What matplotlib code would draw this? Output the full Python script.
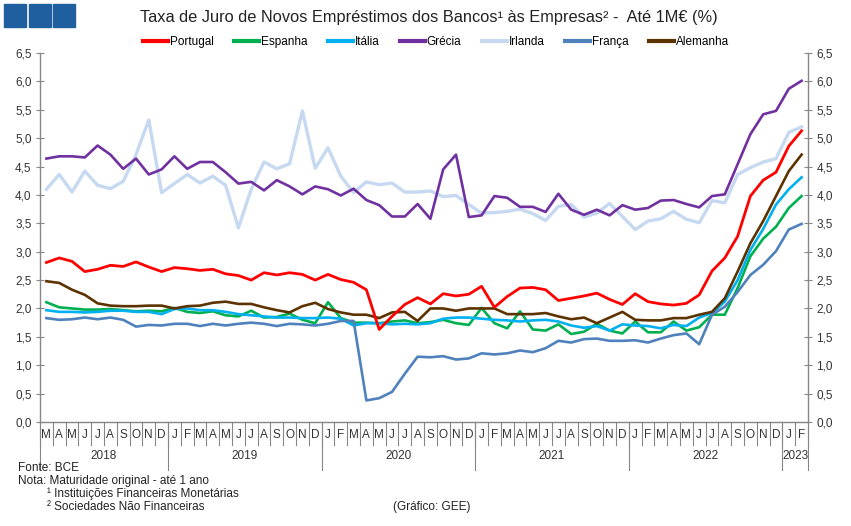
import matplotlib
matplotlib.use("Agg")
import matplotlib.pyplot as plt
from matplotlib import font_manager
from matplotlib.patches import Rectangle
from matplotlib.lines import Line2D

# fonte: condensada se existir
nomes = {f.name for f in font_manager.fontManager.ttflist}
fam = 'Liberation Sans Narrow' if 'Liberation Sans Narrow' in nomes else 'Liberation Sans'
plt.rcParams['font.family'] = fam

# meses de Mar 2018 a Fev 2023
meses = ['M', 'A', 'M', 'J', 'J', 'A', 'S', 'O', 'N', 'D'] + \
        ['J', 'F', 'M', 'A', 'M', 'J', 'J', 'A', 'S', 'O', 'N', 'D'] * 4 + ['J', 'F']
anos = ['2018', '2019', '2020', '2021', '2022', '2023']
meses_por_ano = [10, 12, 12, 12, 12, 2]

portugal = [2.81, 2.89, 2.83, 2.65, 2.69, 2.76, 2.74, 2.82, 2.73, 2.65,
            2.72, 2.70, 2.67, 2.69, 2.61, 2.58, 2.50, 2.63, 2.59, 2.63, 2.60, 2.50,
            2.60, 2.51, 2.46, 2.33, 1.63, 1.86, 2.07, 2.19, 2.08, 2.26, 2.22, 2.25,
            2.39, 2.02, 2.21, 2.36, 2.37, 2.33, 2.14, 2.18, 2.22, 2.27, 2.16, 2.07,
            2.26, 2.12, 2.08, 2.06, 2.09, 2.24, 2.66, 2.89, 3.27, 3.98, 4.26, 4.40,
            4.86, 5.13]
espanha = [2.11, 2.02, 2.00, 1.98, 1.98, 1.99, 1.97, 1.95, 1.96, 1.95,
           2.01, 1.94, 1.92, 1.95, 1.88, 1.86, 1.96, 1.84, 1.85, 1.91, 1.80, 1.74,
           2.11, 1.83, 1.75, 1.75, 1.74, 1.77, 1.79, 1.74, 1.76, 1.80, 1.74, 1.71,
           2.01, 1.74, 1.65, 1.95, 1.63, 1.61, 1.72, 1.55, 1.59, 1.73, 1.61, 1.56,
           1.77, 1.58, 1.58, 1.77, 1.61, 1.67, 1.89, 1.89, 2.36, 2.92, 3.23, 3.44,
           3.77, 3.98]
italia = [1.97, 1.94, 1.94, 1.93, 1.94, 1.96, 1.96, 1.94, 1.94, 1.90,
          1.99, 2.00, 1.97, 1.97, 1.94, 1.90, 1.88, 1.86, 1.84, 1.84, 1.83, 1.83,
          1.84, 1.82, 1.70, 1.74, 1.74, 1.72, 1.73, 1.72, 1.74, 1.82, 1.84, 1.84,
          1.82, 1.80, 1.79, 1.77, 1.79, 1.80, 1.77, 1.70, 1.66, 1.69, 1.61, 1.72,
          1.70, 1.69, 1.65, 1.71, 1.69, 1.84, 1.92, 2.12, 2.50, 3.03, 3.40, 3.83,
          4.10, 4.31]
grecia = [4.64, 4.68, 4.68, 4.66, 4.87, 4.71, 4.46, 4.64, 4.36, 4.45,
          4.68, 4.46, 4.58, 4.58, 4.40, 4.20, 4.23, 4.08, 4.26, 4.15, 4.01, 4.15,
          4.10, 3.99, 4.11, 3.91, 3.82, 3.62, 3.62, 3.84, 3.58, 4.45, 4.71, 3.61,
          3.64, 3.98, 3.95, 3.79, 3.79, 3.70, 4.02, 3.74, 3.65, 3.74, 3.64, 3.82,
          3.74, 3.77, 3.90, 3.91, 3.84, 3.78, 3.98, 4.01, 4.54, 5.07, 5.42, 5.48,
          5.87, 6.01]
irlanda = [4.10, 4.36, 4.05, 4.42, 4.17, 4.11, 4.24, 4.71, 5.32, 4.04,
           4.20, 4.36, 4.21, 4.33, 4.17, 3.42, 4.10, 4.58, 4.46, 4.55, 5.48, 4.47,
           4.83, 4.33, 4.04, 4.23, 4.18, 4.21, 4.05, 4.05, 4.07, 3.97, 3.99, 3.83,
           3.68, 3.69, 3.71, 3.75, 3.67, 3.55, 3.80, 3.83, 3.61, 3.68, 3.85, 3.62,
           3.39, 3.54, 3.58, 3.71, 3.57, 3.51, 3.90, 3.86, 4.36, 4.48, 4.58, 4.64,
           5.10, 5.20]
franca = [1.83, 1.80, 1.81, 1.84, 1.81, 1.84, 1.80, 1.68, 1.71, 1.70,
          1.73, 1.73, 1.69, 1.73, 1.70, 1.73, 1.75, 1.73, 1.69, 1.73, 1.72, 1.70,
          1.73, 1.78, 1.78, 0.38, 0.42, 0.53, 0.85, 1.15, 1.14, 1.16, 1.10, 1.12,
          1.21, 1.19, 1.21, 1.26, 1.23, 1.30, 1.43, 1.40, 1.46, 1.47, 1.43, 1.43,
          1.44, 1.40, 1.47, 1.53, 1.56, 1.37, 1.89, 2.03, 2.29, 2.59, 2.77, 3.01,
          3.39, 3.49]
alemanha = [2.48, 2.45, 2.33, 2.24, 2.09, 2.05, 2.04, 2.04, 2.05, 2.05,
            2.00, 2.04, 2.05, 2.10, 2.12, 2.08, 2.08, 2.02, 1.97, 1.93, 2.04, 2.10,
            1.99, 1.93, 1.89, 1.89, 1.83, 1.93, 1.94, 1.78, 2.00, 2.00, 1.96, 2.00,
            2.00, 2.00, 1.90, 1.90, 1.90, 1.92, 1.86, 1.81, 1.84, 1.74, 1.84, 1.94,
            1.80, 1.79, 1.79, 1.83, 1.83, 1.89, 1.94, 2.18, 2.65, 3.15, 3.54, 3.98,
            4.42, 4.71]

series = [('Portugal', portugal, '#FF0000', 2.0, 9),
          ('Espanha', espanha, '#00B050', 1.9, 4),
          ('Itália', italia, '#00B0F0', 1.9, 5),
          ('Grécia', grecia, '#7030A0', 1.9, 3),
          ('Irlanda', irlanda, '#C6D9F1', 2.4, 2),
          ('França', franca, '#4F81BD', 1.9, 6),
          ('Alemanha', alemanha, '#5C3300', 1.9, 7)]

cinza = '#868686'

fig = plt.figure(figsize=(8.51, 5.26), dpi=100)
ax = fig.add_axes([40 / 851, 1 - 422 / 526, 768 / 851, 369 / 526])

x = [i + 0.5 for i in range(len(meses))]
for nome, vals, cor, lw, z in series:
    ax.plot(x, vals, color=cor, lw=lw, label=nome, zorder=z, solid_joinstyle='round')

ax.set_xlim(0, len(meses))
ax.set_ylim(0, 6.5)
yt = [i * 0.5 for i in range(14)]
ax.set_yticks(yt)
ax.set_yticklabels([f'{v:.1f}'.replace('.', ',') for v in yt])
ax.tick_params(axis='y', left=True, right=True, labelleft=True, labelright=True,
               direction='inout', length=6, width=0.8, color=cinza,
               labelsize=8.5, labelcolor='#333333', pad=3)
ax.set_xticks([])
for s in ['left', 'right', 'bottom']:
    ax.spines[s].set_color(cinza)
    ax.spines[s].set_linewidth(1.0)
ax.spines['top'].set_visible(False)

# eixo das datas: letras dos meses e separadores
trans = ax.get_xaxis_transform()
for k in range(len(meses) + 1):
    ax.add_line(Line2D([k, k], [0, -0.062], transform=trans, color=cinza,
                       lw=0.8, clip_on=False))
for i, m in enumerate(meses):
    ax.text(i + 0.5, -0.035, m, transform=trans, ha='center', va='center',
            fontsize=8.5, color='#333333')
pos = 0
for ano, n in zip(anos, meses_por_ano):
    ax.add_line(Line2D([pos, pos], [0, -0.13], transform=trans, color=cinza,
                       lw=0.8, clip_on=False))
    ax.text(pos + n / 2, -0.092, ano, transform=trans, ha='center', va='center',
            fontsize=8.5, color='#333333')
    pos += n
ax.add_line(Line2D([pos, pos], [0, -0.13], transform=trans, color=cinza,
                   lw=0.8, clip_on=False))

# logotipo
for k in range(3):
    fig.patches.append(Rectangle(((4 + k * 24.5) / 851, 1 - 27 / 526), 22 / 851, 23 / 526,
                                 transform=fig.transFigure, color='#1F5FA0'))

fig.text(429 / 851, 1 - 17.5 / 526,
         'Taxa de Juro de Novos Empréstimos dos Bancos\u00b9 às Empresas\u00b2 -  Até 1M€ (%)',
         ha='center', va='center', fontsize=11.8, color='#222222')

leg = fig.legend(loc='center', bbox_to_anchor=(436 / 851, 1 - 42 / 526), ncol=7,
                 frameon=False, fontsize=8.5, handlelength=2.1, handletextpad=0.15,
                 columnspacing=1.75, borderaxespad=0)
for h in leg.get_lines():
    h.set_linewidth(3)

notas = [(18, 468, 'Fonte: BCE'),
         (18, 481, 'Nota: Maturidade original - até 1 ano'),
         (47, 494, '\u00b9 Instituições Financeiras Monetárias'),
         (47, 507, '\u00b2 Sociedades Não Financeiras'),
         (393, 507, '(Gráfico: GEE)')]
for px, py, t in notas:
    fig.text(px / 851, 1 - py / 526, t, ha='left', va='center', fontsize=8.5,
             color='#222222')

fig.savefig('out.png', dpi=100)
